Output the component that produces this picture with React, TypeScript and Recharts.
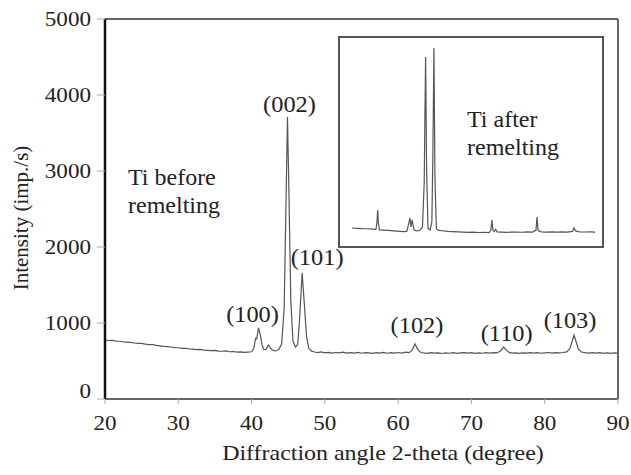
import { LineChart, Line, XAxis, YAxis, ReferenceLine, ReferenceDot } from "recharts";

// main scan, Ti before remelting (2-theta in degrees, intensity in imp./s)
const angle = [
  20.0, 20.5, 21.0, 21.5, 22.0, 22.5, 23.0, 23.5, 24.0, 24.5, 25.0, 25.5, 26.0, 26.5, 27.0, 27.5,
  28.0, 28.5, 29.0, 29.5, 30.0, 30.5, 31.0, 31.5, 32.0, 32.5, 33.0, 33.5, 34.0, 34.5, 35.0, 35.5,
  36.0, 36.5, 37.0, 37.5, 38.0, 38.5, 39.0, 39.5, 40.0, 40.3, 40.55, 40.7, 40.95, 41.2, 41.45, 41.7,
  42.0, 42.3, 42.6, 42.9, 43.3, 43.7, 44.1, 44.45, 44.7, 44.9, 45.1, 45.35, 45.65, 46.0, 46.3, 46.55,
  46.9, 47.2, 47.5, 47.8, 48.2, 48.6, 49.0, 49.5, 50.0, 50.5, 51.0, 51.5, 52.0, 52.5, 53.0, 53.5,
  54.0, 54.5, 55.0, 55.5, 56.0, 56.5, 57.0, 57.5, 58.0, 58.5, 59.0, 59.5, 60.0, 60.5, 61.0, 61.5,
  61.9, 62.3, 62.7, 63.1, 63.5, 64.0, 64.5, 65.0, 65.5, 66.0, 66.5, 67.0, 67.5, 68.0, 68.5, 69.0,
  69.5, 70.0, 70.5, 71.0, 71.5, 72.0, 72.5, 73.0, 73.5, 74.0, 74.4, 74.8, 75.2, 75.6, 76.0, 76.5,
  77.0, 77.5, 78.0, 78.5, 79.0, 79.5, 80.0, 80.5, 81.0, 81.5, 82.0, 82.5, 83.0, 83.4, 83.75, 84.0,
  84.3, 84.6, 85.0, 85.5, 86.0, 86.5, 87.0, 87.5, 88.0, 88.5, 89.0, 89.5, 90.0,
];
const intensity = [
  776, 770, 773, 762, 760, 752, 749, 744, 737, 731, 733, 722, 715, 717, 705, 700,
  693, 688, 684, 677, 674, 666, 668, 659, 657, 650, 652, 643, 641, 636, 639, 630,
  628, 632, 622, 625, 617, 621, 613, 618, 622, 665, 800, 790, 935, 840, 700, 650,
  655, 712, 665, 640, 632, 650, 720, 1200, 2600, 3710, 2700, 1300, 760, 684, 720, 1050,
  1660, 1250, 820, 670, 630, 618, 611, 620, 608, 614, 604, 612, 606, 616, 603, 610,
  605, 613, 602, 611, 606, 600, 609, 604, 614, 602, 609, 603, 612, 605, 616, 610,
  640, 724, 650, 612, 606, 601, 610, 603, 608, 599, 606, 602, 609, 600, 607, 611,
  603, 609, 600, 606, 602, 611, 604, 609, 606, 635, 684, 640, 610, 603, 608, 600,
  607, 603, 611, 604, 609, 602, 608, 612, 605, 611, 606, 612, 620, 660, 760, 842,
  750, 655, 618, 610, 604, 611, 603, 609, 601, 607, 600, 606, 602,
];

// inset scan, Ti after remelting (same angular span, same intensity scale)
const insetAngle = [
  20.0, 21.5, 23.0, 24.5, 26.0, 26.9, 27.2, 27.4, 27.6, 27.9, 29.0, 30.5, 32.0, 33.8, 35.0, 35.8,
  36.3, 36.7, 37.0, 37.3, 37.6, 37.9, 38.6, 39.5, 40.3, 40.8, 41.2, 41.5, 41.9, 42.5, 43.0, 43.3,
  43.6, 43.9, 44.3, 45.0, 46.0, 47.5, 49.0, 50.5, 52.0, 53.5, 55.0, 56.5, 58.0, 59.5, 60.0, 60.3,
  60.6, 61.0, 61.4, 61.8, 63.0, 64.5, 66.0, 67.5, 69.0, 70.5, 72.0, 73.0, 73.3, 73.6, 74.5, 76.0,
  77.5, 79.0, 80.5, 82.0, 83.5, 84.0, 84.4, 85.5, 87.0, 88.5, 90.0,
];
const insetIntensity = [
  354, 345, 338, 334, 326, 322, 500, 808, 480, 305, 300, 292, 282, 270, 262, 275,
  450, 606, 380, 556, 420, 300, 280, 290, 380, 1500, 4672, 1800, 350, 303, 500, 2200,
  4899, 1600, 330, 292, 284, 268, 262, 255, 250, 243, 248, 240, 246, 238, 300, 556,
  300, 262, 320, 256, 250, 242, 248, 252, 246, 255, 250, 300, 631, 290, 258, 250,
  256, 248, 254, 250, 268, 354, 280, 258, 252, 256, 250,
];

const peakNames = ["(100)", "(002)", "(101)", "(102)", "(110)", "(103)"];
const peakAngles = [40.95, 44.9, 46.9, 62.3, 74.4, 84.0];
const peakHeights = [935, 3710, 1660, 724, 684, 842];

const xTicks = [20, 30, 40, 50, 60, 70, 80, 90];
const yTicks = [0, 1000, 2000, 3000, 4000, 5000];

const mainData = angle.map((a, i) => ({ angle: a, intensity: intensity[i] }));
const insetData = insetAngle.map((a, i) => ({ angle: a, intensity: insetIntensity[i] }));

const INK = "#222";
const serif = (size: number) => ({ fontFamily: '"Liberation Serif", serif', fontSize: size, fill: INK });

// where each peak label sits relative to its peak top (px)
const labelShift: Record<string, [number, number]> = {
  "(100)": [-6, 6],
  "(002)": [2, 5],
  "(101)": [15, 8],
  "(102)": [2, 11],
  "(110)": [3, 6],
  "(103)": [-4, 7],
};

// the source figure is a little wider than tall, so text gets a slight horizontal stretch
const XTick = ({ x, y, payload }: any) => (
  <text transform={`translate(${x} ${y}) scale(1.1 1)`} dy="0.71em" textAnchor="middle" style={serif(21)}>
    {payload.value}
  </text>
);

const YTick = ({ x, y, payload }: any) => (
  <text
    transform={`translate(${x} ${y}) scale(1.1 1)`}
    dy={payload.value === 0 ? -1 : "0.355em"}
    textAnchor="end"
    style={serif(21)}
  >
    {payload.value}
  </text>
);

const App = () => {
  return (
    <div style={{ position: "absolute", left: 0, top: 0, width: 631, height: 475, background: "#fff" }}>
      <LineChart width={631} height={475} data={mainData} margin={{ top: 19, right: 13, bottom: 46, left: 45 }}>
        <XAxis
          dataKey="angle"
          type="number"
          domain={[20, 90]}
          ticks={xTicks}
          height={30}
          axisLine={{ stroke: "#666", strokeWidth: 2 }}
          tickLine={{ stroke: "#aaa" }}
          tickSize={5}
          tickMargin={11}
          tick={<XTick />}
          label={() => (
            <text transform="translate(383 460) scale(1.14 1)" textAnchor="middle" style={serif(21)}>
              Diffraction angle 2-theta (degree)
            </text>
          )}
        />
        <YAxis
          type="number"
          domain={[0, 5000]}
          ticks={yTicks}
          width={60}
          axisLine={{ stroke: "#111", strokeWidth: 2.5 }}
          tickLine={{ stroke: "#aaa" }}
          tickSize={8}
          tickMargin={6}
          tick={<YTick />}
          label={() => (
            <text x={28} y={218} transform="rotate(-90 28 218)" textAnchor="middle" style={serif(21)}>
              Intensity (imp./s)
            </text>
          )}
        />
        <ReferenceLine y={5000} stroke="#666" strokeWidth={2} />
        <ReferenceLine x={90} stroke="#666" strokeWidth={2} />
        <Line
          type="linear"
          dataKey="intensity"
          stroke="#555"
          strokeWidth={1.2}
          dot={false}
          isAnimationActive={false}
        />
        {peakNames.map((name, i) => (
          <ReferenceDot
            key={name}
            x={peakAngles[i]}
            y={peakHeights[i]}
            r={1}
            shape={(p: any) => (
              <text
                transform={`translate(${p.cx + labelShift[name][0]} ${p.cy - labelShift[name][1]}) scale(1.06 1)`}
                textAnchor="middle"
                style={serif(23)}
              >
                {name}
              </text>
            )}
          />
        ))}
      </LineChart>

      <div
        style={{
          position: "absolute",
          left: 338,
          top: 36,
          width: 266,
          height: 212,
          boxSizing: "border-box",
          border: "2px solid #555",
          background: "#fff",
        }}
      >
        <LineChart width={262} height={208} data={insetData} margin={{ top: 6, right: 7, bottom: 4, left: 12 }}>
          <XAxis dataKey="angle" type="number" domain={[20, 90]} hide />
          <YAxis type="number" domain={[0, 5000]} hide />
          <Line
            type="linear"
            dataKey="intensity"
            stroke="#555"
            strokeWidth={1.2}
            dot={false}
            isAnimationActive={false}
          />
        </LineChart>
      </div>

      <svg width={631} height={475} style={{ position: "absolute", left: 0, top: 0, pointerEvents: "none" }}>
        <text x={128} y={185} style={serif(24)}>Ti before</text>
        <text x={128} y={213} style={serif(24)}>remelting</text>
        <text x={467} y={127} style={serif(24)}>Ti after</text>
        <text x={467} y={155} style={serif(24)}>remelting</text>
      </svg>
    </div>
  );
};

export default App;
